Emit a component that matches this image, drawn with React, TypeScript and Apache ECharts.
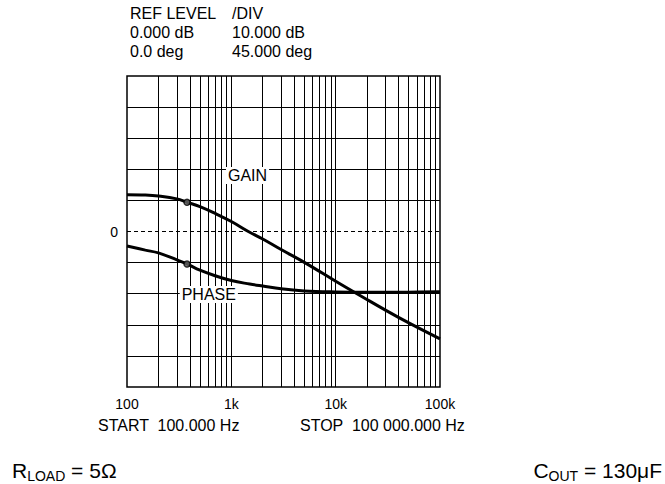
import React, { useEffect, useRef } from "react";
import * as echarts from "echarts";

// ---- data ----
const gainFreqs = [100, 150, 200, 300, 376, 500, 700, 1000, 1455, 2000, 3000, 5300, 10000, 16000, 40000, 100000];
const gainDb = [11.8, 11.7, 11.4, 10.5, 9.4, 8.0, 5.8, 3.2, 0, -2.4, -5.8, -10.4, -16.0, -20.0, -27.6, -34.5];

const phaseFreqs = [100, 150, 200, 300, 376, 500, 700, 1000, 1500, 2000, 3000, 5000, 10000, 20000, 50000, 100000];
const phaseDeg = [-21, -27, -31, -41, -47, -56, -64, -71, -76, -79, -83, -86, -87.5, -88, -87.8, -87.3];

const markerFreq = 376;
const markerGain = 9.4;
const markerPhase = -47;

const xTickLabels = ["100", "1k", "10k", "100k"];
const decades = [100, 1000, 10000];
const multipliers = [1, 2, 3, 4, 5, 6, 7, 8, 9];
const gainLines = [-40, -30, -20, -10, 10, 20, 30, 40];

const gainLabelPos = [1430, 18];
const phaseLabelPos = [608, -91];

const headerLeft = ["REF LEVEL", "0.000 dB", "0.0 deg"];
const headerRight = ["/DIV", "10.000 dB", "45.000 deg"];

const FONT = "'Liberation Sans', Arial, Helvetica, sans-serif";

export default function App() {
  const ref = useRef<HTMLDivElement>(null);

  useEffect(() => {
    if (!ref.current) return;
    const chart = echarts.init(ref.current, null, { renderer: "svg" });

    const verticals: any[] = [];
    decades.forEach((d) => {
      multipliers.forEach((m) => {
        const f = d * m;
        if (f > 100 && f < 100000) verticals.push({ xAxis: f });
      });
    });
    const horizontals: any[] = gainLines.map((v) => ({ yAxis: v }));
    horizontals.push({ yAxis: 0, lineStyle: { type: [4, 3], color: "#000", width: 1 } });

    const graphics: any[] = [];
    const rowY = [13, 32, 51];
    headerLeft.forEach((t, i) => {
      graphics.push({
        type: "text",
        x: 130,
        y: rowY[i],
        style: { text: t, fontSize: 16, fontFamily: FONT, fill: "#000", align: "left", verticalAlign: "middle" },
      });
    });
    headerRight.forEach((t, i) => {
      graphics.push({
        type: "text",
        x: 232,
        y: rowY[i],
        style: { text: t, fontSize: 16, fontFamily: FONT, fill: "#000", align: "left", verticalAlign: "middle" },
      });
    });
    graphics.push({
      type: "text",
      x: 98,
      y: 425,
      style: { text: "START  100.000 Hz", fontSize: 16, fontFamily: FONT, fill: "#000", align: "left", verticalAlign: "middle" },
    });
    graphics.push({
      type: "text",
      x: 300,
      y: 425,
      style: { text: "STOP  100 000.000 Hz", fontSize: 16, fontFamily: FONT, fill: "#000", align: "left", verticalAlign: "middle" },
    });
    const rich = {
      m: { fontSize: 21, fontFamily: FONT, fill: "#000", lineHeight: 24 },
      s: { fontSize: 14, fontFamily: FONT, fill: "#000", lineHeight: 14, padding: [12, 0, 0, 0] },
    };
    graphics.push({
      type: "text",
      x: 12,
      y: 470,
      style: { text: "{m|R}{s|LOAD}{m| = 5Ω}", rich, fill: "#000", align: "left", verticalAlign: "middle", fontFamily: FONT, fontSize: 21 },
    });
    graphics.push({
      type: "text",
      x: 662,
      y: 470,
      style: { text: "{m|C}{s|OUT}{m| = 130μF}", rich, fill: "#000", align: "right", verticalAlign: "middle", fontFamily: FONT, fontSize: 21 },
    });

    const labelStyle = {
      show: true,
      position: "inside",
      color: "#000",
      fontSize: 16,
      fontFamily: FONT,
      backgroundColor: "#fff",
      padding: [1, 2, 0, 2],
    };

    chart.setOption({
      animation: false,
      backgroundColor: "#fff",
      grid: {
        left: 127,
        right: 225,
        top: 76,
        bottom: 97,
        show: true,
        borderColor: "#000",
        borderWidth: 1.5,
        backgroundColor: "transparent",
      },
      xAxis: {
        type: "log",
        logBase: 10,
        min: 100,
        max: 100000,
        axisLine: { show: false },
        axisTick: { show: false },
        splitLine: { show: false },
        minorTick: { show: false },
        axisLabel: {
          color: "#000",
          fontSize: 14,
          fontFamily: FONT,
          margin: 10,
          showMinLabel: true,
          showMaxLabel: true,
          formatter: (v: number) => {
            const e = Math.round(Math.log10(v)) - 2;
            return xTickLabels[e] ?? "";
          },
        },
      },
      yAxis: [
        {
          type: "value",
          min: -50,
          max: 50,
          interval: 10,
          axisLine: { show: false },
          axisTick: { show: false },
          splitLine: { show: false },
          axisLabel: {
            color: "#000",
            fontSize: 14,
            fontFamily: FONT,
            margin: 9,
            formatter: (v: number) => (Math.abs(v) < 1e-9 ? "0" : ""),
          },
        },
        {
          type: "value",
          min: -225,
          max: 225,
          interval: 45,
          show: false,
          splitLine: { show: false },
        },
      ],
      graphic: graphics,
      series: [
        {
          type: "line",
          name: "grid",
          data: [],
          z: 1,
          silent: true,
          markLine: {
            silent: true,
            symbol: ["none", "none"],
            label: { show: false },
            lineStyle: { color: "#000", width: 1, type: "solid" },
            emphasis: { disabled: true },
            data: [...verticals, ...horizontals],
          },
        },
        {
          type: "line",
          name: "GAIN",
          data: gainFreqs.map((f, i) => [f, gainDb[i]]),
          smooth: 0.4,
          symbol: "none",
          z: 5,
          lineStyle: { color: "#000", width: 3 },
          markPoint: {
            silent: true,
            symbol: "rect",
            symbolSize: 0,
            data: [{ coord: gainLabelPos, value: "GAIN" }],
            label: { ...labelStyle, formatter: "GAIN" },
          },
        },
        {
          type: "line",
          name: "PHASE",
          yAxisIndex: 1,
          data: phaseFreqs.map((f, i) => [f, phaseDeg[i]]),
          smooth: 0.4,
          symbol: "none",
          z: 5,
          lineStyle: { color: "#000", width: 3 },
          markPoint: {
            silent: true,
            symbol: "rect",
            symbolSize: 0,
            data: [{ coord: phaseLabelPos, value: "PHASE" }],
            label: { ...labelStyle, formatter: "PHASE" },
          },
        },
        {
          type: "scatter",
          data: [[markerFreq, markerGain]],
          symbol: "circle",
          symbolSize: 6,
          z: 6,
          itemStyle: { color: "#666", borderColor: "#000", borderWidth: 1.5 },
        },
        {
          type: "scatter",
          yAxisIndex: 1,
          data: [[markerFreq, markerPhase]],
          symbol: "circle",
          symbolSize: 6,
          z: 6,
          itemStyle: { color: "#666", borderColor: "#000", borderWidth: 1.5 },
        },
      ],
    });

    return () => chart.dispose();
  }, []);

  return (
    <div
      ref={ref}
      style={{ position: "fixed", left: 0, top: 0, width: 665, height: 484, background: "#fff" }}
    />
  );
}
